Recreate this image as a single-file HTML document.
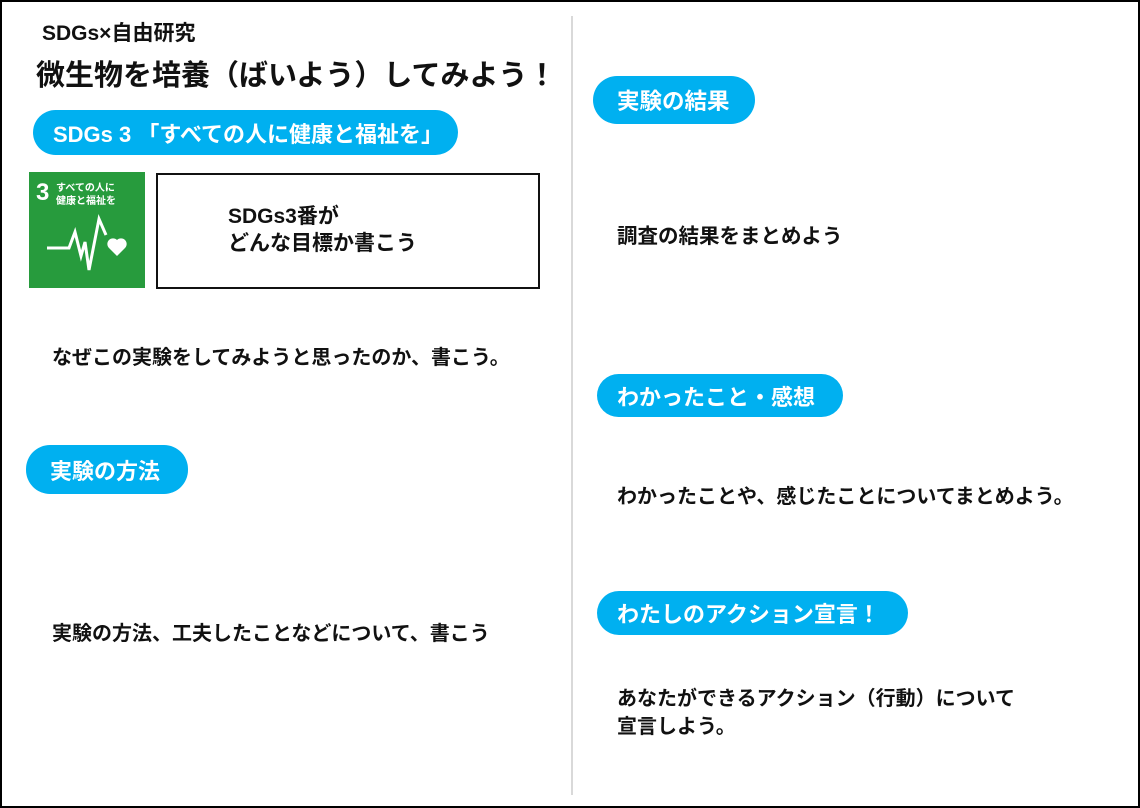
<!DOCTYPE html>
<html><head><meta charset="utf-8"><style>
*{margin:0;padding:0;box-sizing:border-box}
body{width:1140px;height:808px;background:#fff;position:relative;overflow:hidden;font-family:"Liberation Sans","Noto Sans CJK JP",sans-serif;font-weight:bold;color:#111}
.frame{position:absolute;left:0;top:0;width:1140px;height:808px;border:2px solid #000}
.div{position:absolute;left:571px;top:16px;width:2px;height:779px;background:#d9d9d9}
.t{position:absolute;white-space:nowrap;line-height:1}
.pill{position:absolute;background:#00b0f0;color:#fff;border-radius:24px;display:flex;align-items:center;font-weight:bold;white-space:nowrap}
</style></head><body>
<div class="frame"></div>
<div class="div"></div>
<div class="t" style="left:42px;top:23px;font-size:21px">SDGs×自由研究</div>
<div class="t" style="left:36px;top:62px;font-size:29px">微生物を培養（ばいよう）してみよう！</div>
<div class="pill" style="left:33px;top:110px;width:425px;height:45px;padding-left:20px;font-size:22px">SDGs 3 「すべての人に健康と福祉を」</div>
<div style="position:absolute;left:29px;top:172px;width:116px;height:116px;background:#279b3d">
<div class="t" style="left:7px;top:9px;color:#fff;font-size:24px">3</div>
<div class="t" style="left:27px;top:10px;color:#fff;font-size:10px;line-height:13px">すべての人に<br>健康と福祉を</div>
<svg style="position:absolute;left:0;top:0" width="116" height="116"><polyline points="18,76 40,76 46,60 52,84 56,70 60,98 70,47 77,63" fill="none" stroke="#fff" stroke-width="3"/><path d="M88,84 L80,76 A5,5 0 1 1 88,68 A5,5 0 1 1 96,76 Z" fill="#fff"/></svg>
</div>
<div style="position:absolute;left:156px;top:173px;width:384px;height:116px;border:2px solid #111"></div>
<div class="t" style="left:228px;top:203px;font-size:21px;line-height:27px">SDGs3番が<br>どんな目標か書こう</div>
<div class="t" style="left:52px;top:348px;font-size:20px">なぜこの実験をしてみようと思ったのか、書こう。</div>
<div class="pill" style="left:26px;top:445px;width:162px;height:49px;padding-left:24px;font-size:22px">実験の方法</div>
<div class="t" style="left:52px;top:624px;font-size:20px">実験の方法、工夫したことなどについて、書こう</div>
<div class="pill" style="left:593px;top:76px;width:162px;height:48px;padding-left:24px;font-size:22.5px">実験の結果</div>
<div class="t" style="left:617px;top:227px;font-size:20.5px">調査の結果をまとめよう</div>
<div class="pill" style="left:597px;top:374px;width:246px;height:43px;padding-left:20px;font-size:22px">わかったこと・感想</div>
<div class="t" style="left:617px;top:487px;font-size:20px">わかったことや、感じたことについてまとめよう。</div>
<div class="pill" style="left:597px;top:591px;width:311px;height:44px;padding-left:20px;font-size:22px">わたしのアクション宣言！</div>
<div class="t" style="left:617px;top:685px;font-size:20px;line-height:28px">あなたができるアクション（行動）について<br>宣言しよう。</div>
</body></html>
